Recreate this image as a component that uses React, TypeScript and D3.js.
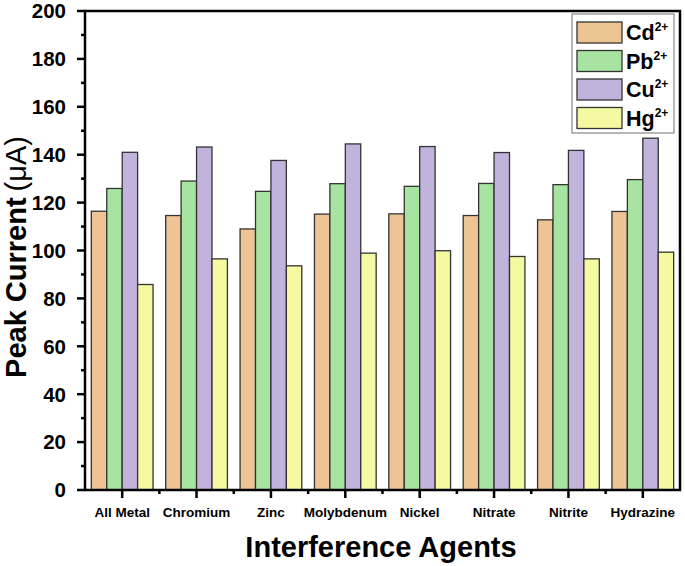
import React from "react";
import * as d3 from "d3";

const categories = ["All Metal", "Chromium", "Zinc", "Molybdenum", "Nickel", "Nitrate", "Nitrite", "Hydrazine"];
const seriesNames = ["Cd", "Pb", "Cu", "Hg"];
const cdValues = [116.4, 114.6, 109.0, 115.2, 115.3, 114.6, 112.8, 116.3];
const pbValues = [125.9, 129.0, 124.7, 127.9, 126.8, 128.0, 127.5, 129.6];
const cuValues = [141.0, 143.2, 137.6, 144.5, 143.4, 140.9, 141.8, 146.9];
const hgValues = [85.8, 96.5, 93.6, 98.9, 99.9, 97.5, 96.5, 99.3];
const yMajorTicks = [0, 20, 40, 60, 80, 100, 120, 140, 160, 180, 200];
const yMinorTicks = [10, 30, 50, 70, 90, 110, 130, 150, 170, 190];

const seriesValues = [cdValues, pbValues, cuValues, hgValues];
const colors = ["#EFC495", "#A7E4A2", "#C2B3DC", "#F4F9A2"];

const W = 685;
const H = 566;
const left = 85;
const right = 680;
const top = 11;
const bottom = 490;
const font = "'Liberation Sans', Arial, sans-serif";

export default function App() {
  const x = d3.scaleBand<string>().domain(categories).range([left, right]).paddingInner(0.17).paddingOuter(0.085);
  const xi = d3.scaleBand<string>().domain(seriesNames).range([0, x.bandwidth()]).padding(0);
  const y = d3.scaleLinear().domain([0, 200]).range([bottom, top]);
  const step = x.step();

  return (
    <svg width={W} height={H} style={{ position: "absolute", left: 0, top: 0, background: "#fff" }}>
      <rect x={0} y={0} width={W} height={H} fill="#fff" />
      {categories.map((c, ci) => (
        <g key={c}>
          {seriesNames.map((s, si) => {
            const v = seriesValues[si][ci];
            return (
              <rect
                key={s}
                x={(x(c) as number) + (xi(s) as number)}
                y={y(v)}
                width={xi.bandwidth()}
                height={y(0) - y(v)}
                fill={colors[si]}
                stroke="#333"
                strokeWidth={1.3}
              />
            );
          })}
        </g>
      ))}
      <rect x={left} y={top} width={right - left} height={bottom - top} fill="none" stroke="#000" strokeWidth={2.5} />
      {yMajorTicks.map((t) => (
        <g key={"ym" + t}>
          <line x1={left - 8} x2={left} y1={y(t)} y2={y(t)} stroke="#000" strokeWidth={2.5} />
          <text x={66} y={y(t)} dy="0.36em" textAnchor="end" fontFamily={font} fontWeight="bold" fontSize={20.5} fill="#000">
            {t}
          </text>
        </g>
      ))}
      {yMinorTicks.map((t) => (
        <line key={"yn" + t} x1={left - 4} x2={left} y1={y(t)} y2={y(t)} stroke="#000" strokeWidth={2.5} />
      ))}
      {categories.map((c, i) => {
        const cx = (x(c) as number) + x.bandwidth() / 2;
        return (
          <g key={"xt" + c}>
            <line x1={cx} x2={cx} y1={bottom} y2={bottom + 8} stroke="#000" strokeWidth={2.5} />
            {i < categories.length - 1 && (
              <line x1={cx + step / 2} x2={cx + step / 2} y1={bottom} y2={bottom + 4} stroke="#000" strokeWidth={2.5} />
            )}
            <text x={cx} y={517} textAnchor="middle" fontFamily={font} fontWeight="bold" fontSize={13.5} fill="#000">
              {c}
            </text>
          </g>
        );
      })}
      <text x={381} y={557} textAnchor="middle" fontFamily={font} fontWeight="bold" fontSize={29} fill="#000">
        Interference Agents
      </text>
      <text transform="translate(26,257) rotate(-90)" textAnchor="middle" fontFamily={font} fontSize={29} fill="#000">
        <tspan fontWeight="bold">Peak Current</tspan>
        <tspan dx={6}>(μA)</tspan>
      </text>
      <rect x={572} y={14} width={102} height={119} fill="#fff" stroke="#888" strokeWidth={1.2} />
      {seriesNames.map((s, i) => {
        const ry = 22 + i * 28.5;
        return (
          <g key={"lg" + s}>
            <rect x={577} y={ry} width={45} height={21} fill={colors[i]} stroke="#333" strokeWidth={1.3} />
            <text x={626} y={ry + 18} fontFamily={font} fontWeight="bold" fontSize={21.5} fill="#000">
              {s}
              <tspan fontSize={12} dy={-9}>2+</tspan>
            </text>
          </g>
        );
      })}
    </svg>
  );
}
